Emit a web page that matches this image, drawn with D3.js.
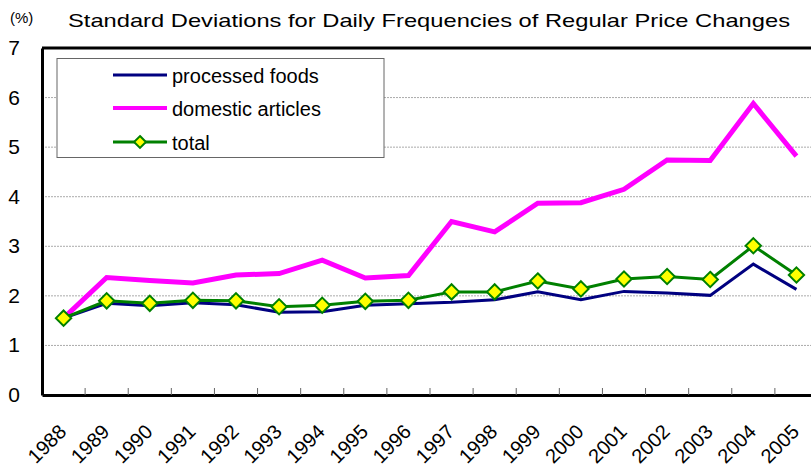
<!DOCTYPE html>
<html>
<head>
<meta charset="utf-8">
<script src="https://cdn.jsdelivr.net/npm/d3@7"></script>
<style>
  body { margin: 0; background: #fff; }
  svg { display: block; font-family: "Liberation Sans", Arial, sans-serif; }
</style>
</head>
<body>
<svg width="811" height="473"></svg>
<script>
const years = ["1988","1989","1990","1991","1992","1993","1994","1995","1996",
    "1997","1998","1999","2000","2001","2002","2003","2004","2005"];
const processedFoods = [1.55,1.85,1.80,1.86,1.82,1.67,1.68,1.81,1.84,
    1.87,1.92,2.08,1.92,2.09,2.06,2.01,2.64,2.13];
const domesticArticles = [1.55,2.37,2.31,2.26,2.42,2.45,2.72,2.36,2.41,
    3.50,3.29,3.87,3.88,4.15,4.74,4.73,5.88,4.82];
const total = [1.55,1.90,1.85,1.91,1.90,1.78,1.81,1.89,1.91,
    2.08,2.08,2.30,2.14,2.34,2.39,2.33,3.01,2.42];
const yTicks = [0,1,2,3,4,5,6,7];

const svg = d3.select("svg");
const plotLeft = 42, plotRight = 818, plotTop = 48, plotBottom = 395;

const x = d3.scaleBand().domain(years).range([plotLeft, plotRight]);
const y = d3.scaleLinear().domain([0, 7]).range([plotBottom, plotTop]);
const cx = d => x(d) + x.bandwidth() / 2;

// gridlines
svg.append("g")
    .selectAll("line")
    .data(yTicks.filter(d => d > 0 && d < 7))
    .enter().append("line")
    .attr("x1", plotLeft).attr("x2", plotRight)
    .attr("y1", d => y(d)).attr("y2", d => y(d))
    .attr("stroke", "#aaa")
    .attr("stroke-width", 1)
    .attr("stroke-dasharray", "2,1");

// top border
svg.append("line")
    .attr("x1", plotLeft).attr("x2", plotRight)
    .attr("y1", plotTop).attr("y2", plotTop)
    .attr("stroke", "#000").attr("stroke-width", 3);

// x axis
const xAxis = svg.append("g")
    .attr("transform", `translate(0,${plotBottom})`)
    .call(d3.axisBottom(x).tickSize(0).tickFormat(""));
xAxis.select(".domain").attr("stroke", "#000").attr("stroke-width", 3);

svg.append("g")
    .selectAll("line")
    .data(years.slice(1))
    .enter().append("line")
    .attr("x1", d => x(d)).attr("x2", d => x(d))
    .attr("y1", plotBottom).attr("y2", plotBottom - 7)
    .attr("stroke", "#666").attr("stroke-width", 1);

svg.append("g")
    .selectAll("text")
    .data(years)
    .enter().append("text")
    .attr("transform", d => `translate(${cx(d) + 4},${plotBottom + 38}) rotate(-45)`)
    .attr("text-anchor", "end")
    .attr("font-size", 20)
    .attr("fill", "#000")
    .text(d => d);

// y axis
const yAxis = svg.append("g")
    .attr("transform", `translate(${plotLeft},0)`)
    .call(d3.axisLeft(y).tickValues(yTicks).tickSize(0).tickFormat(""));
yAxis.select(".domain").attr("stroke", "#000").attr("stroke-width", 3);

svg.append("g")
    .selectAll("text")
    .data(yTicks)
    .enter().append("text")
    .attr("x", 14)
    .attr("y", d => y(d) + 7)
    .attr("text-anchor", "middle")
    .attr("font-size", 21)
    .attr("fill", "#000")
    .text(d => d);

// title + unit
svg.append("text")
    .attr("x", 10).attr("y", 23)
    .attr("font-size", 15)
    .text("(%)");
svg.append("text")
    .attr("x", 68).attr("y", 27)
    .attr("font-size", 19)
    .attr("textLength", 722)
    .attr("lengthAdjust", "spacingAndGlyphs")
    .text("Standard Deviations for Daily Frequencies of Regular Price Changes");

// lines
const line = d3.line()
    .x((d, i) => cx(years[i]))
    .y(d => y(d));

svg.append("path").datum(domesticArticles)
    .attr("d", line).attr("fill", "none")
    .attr("stroke", "#ff00ff").attr("stroke-width", 5);

svg.append("path").datum(processedFoods)
    .attr("d", line).attr("fill", "none")
    .attr("stroke", "#000080").attr("stroke-width", 3);

svg.append("path").datum(total)
    .attr("d", line).attr("fill", "none")
    .attr("stroke", "#008000").attr("stroke-width", 3);

const diamond = d3.symbol().type(d3.symbolDiamond2).size(150);
svg.append("g")
    .selectAll("path")
    .data(total)
    .enter().append("path")
    .attr("d", diamond)
    .attr("transform", (d, i) => `translate(${cx(years[i])},${y(d)})`)
    .attr("fill", "#ffff00")
    .attr("stroke", "#008000")
    .attr("stroke-width", 2);

// legend
const legend = svg.append("g");
legend.append("rect")
    .attr("x", 57).attr("y", 58.5)
    .attr("width", 327).attr("height", 99)
    .attr("fill", "#fff")
    .attr("stroke", "#666").attr("stroke-width", 1);

const legendItems = [
    { name: "processed foods", color: "#000080", w: 3, marker: false, y: 75 },
    { name: "domestic articles", color: "#ff00ff", w: 4, marker: false, y: 108 },
    { name: "total", color: "#008000", w: 3, marker: true, y: 142 }
];
legendItems.forEach(it => {
    legend.append("line")
        .attr("x1", 113).attr("x2", 167)
        .attr("y1", it.y).attr("y2", it.y)
        .attr("stroke", it.color).attr("stroke-width", it.w);
    if (it.marker) {
        legend.append("path")
            .attr("d", d3.symbol().type(d3.symbolDiamond2).size(90))
            .attr("transform", `translate(140,${it.y})`)
            .attr("fill", "#ffff00").attr("stroke", "#008000").attr("stroke-width", 2);
    }
    legend.append("text")
        .attr("x", 172).attr("y", it.y + 8)
        .attr("font-size", 20)
        .text(it.name);
});
</script>
</body>
</html>
